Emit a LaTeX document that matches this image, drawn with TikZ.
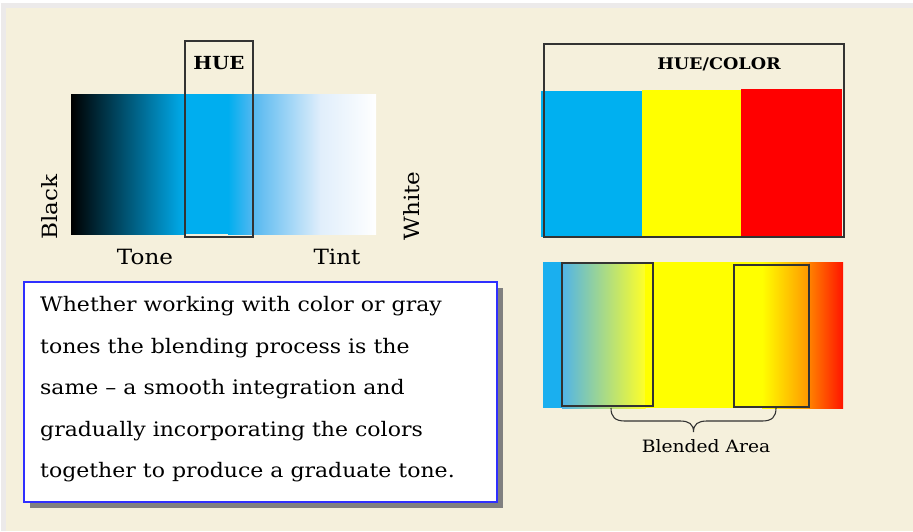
\documentclass[tikz,border=0pt]{standalone}
\usepackage{fontspec}
\setmainfont{DejaVu Serif}[FakeStretch=1.1]
\usetikzlibrary{positioning}
\definecolor{cream}{HTML}{F5F0DC}
\definecolor{edgegray}{HTML}{ECEAEA}
\definecolor{hueblue}{HTML}{00AEEF}
\definecolor{lightblue}{HTML}{55B8F0}
\definecolor{paleblue}{HTML}{E0EEFB}
\definecolor{barblue}{HTML}{00B0F0}
\definecolor{pureyellow}{HTML}{FFFF00}
\definecolor{purered}{HTML}{FF0000}
\definecolor{leftblue}{HTML}{1AAFEF}
\definecolor{mixblue}{HTML}{50B4E8}
\definecolor{softyellow}{HTML}{FFFF28}
\definecolor{orangeA}{HTML}{FF9600}
\definecolor{orangeB}{HTML}{FF8200}
\definecolor{redend}{HTML}{FF1400}
\definecolor{boxblue}{HTML}{2F2FFF}
\definecolor{shadowgray}{HTML}{808080}
\definecolor{framegray}{HTML}{333333}
\tikzset{
  frame/.style={draw=framegray, line width=1.3pt},
  lbl/.style={font=\fontsize{21}{24}\selectfont, inner sep=0pt},
  title/.style={font=\bfseries\fontsize{16}{19}\selectfont, inner sep=0pt},
}
\begin{document}
\begin{tikzpicture}[x=1pt,y=-1pt]
\useasboundingbox (0,0) rectangle (913,531);
% background
\fill[white] (0,0) rectangle (913,531);
\fill[edgegray] (1,3) rectangle (913,531);
\fill[cream] (6,8) rectangle (913,531);

% ---- left: tone/tint gradient ----
\shade[left color=black, right color=hueblue] (71,94) rectangle (185.5,234);
\fill[hueblue] (185,94) rectangle (228.5,234);
\shade[left color=hueblue, right color=lightblue] (228,94) rectangle (253.5,234);
\shade[left color=lightblue, right color=paleblue] (253,94) rectangle (320.5,234);
\shade[left color=paleblue, right color=white] (320,94) rectangle (376,234);
\node[frame, minimum width=68pt, minimum height=196pt, inner sep=0pt] (huebox) at (219,139) {};
\node[title, font=\bfseries\fontsize{18}{21}\selectfont] (hue) at (219,63) {HUE};
\node[lbl, rotate=90] (black) at (50,207) {Black};
\node[lbl, rotate=90] (white) at (412,206) {White};
\node[lbl] (tone) at (145,257) {Tone};
\node[lbl] (tint) at (337,257) {Tint};

% ---- right top: hue/color bars ----
\fill[barblue] (541,91) rectangle (642,237);
\fill[pureyellow] (642,90) rectangle (741,237);
\fill[purered] (741,89) rectangle (842,236);
\node[frame, minimum width=300pt, minimum height=193pt, inner sep=0pt] (colorbox) at (694,140.5) {};
\node[title] (huecolor) at (719,64) {HUE/COLOR};

% ---- right bottom: blended bar ----
\fill[leftblue] (543,262) rectangle (562.5,408);
\shade[left color=mixblue, right color=softyellow] (562,262) rectangle (645.5,408);
\fill[pureyellow] (645,262) rectangle (762.5,408);
\shade[left color=pureyellow, right color=orangeA] (762,262) rectangle (809.5,408);
\shade[left color=orangeB, right color=redend] (809,262) rectangle (843,408);
\node[frame, minimum width=91pt, minimum height=143pt, inner sep=0pt] (blendL) at (607.5,334.5) {};
\node[frame, minimum width=75pt, minimum height=142pt, inner sep=0pt] (blendR) at (771.5,336) {};
\coordinate (braceL) at (611,408);
\coordinate (braceR) at (776,408);
\coordinate (braceTip) at (693.5,432);
\draw[framegray, line width=1.1pt]
  (braceL) .. controls (611,417) and (615,421) .. (625,421) -- (680,421)
  .. controls (689,421) and (693.5,424) .. (braceTip)
  .. controls (693.5,424) and (698,421) .. (707,421) -- (762,421)
  .. controls (772,421) and (776,417) .. (braceR);
\node[font=\fontsize{17}{20}\selectfont, inner sep=0pt] (blended) at (706,446) {Blended Area};

% ---- text box ----
\fill[shadowgray] (30,288) rectangle (503,508);
\node[draw=boxblue, fill=white, line width=1.2pt, minimum width=473pt, minimum height=220pt, inner sep=0pt] (textbox) at (260.5,392) {};
\node[anchor=north west, inner sep=0pt, align=left, font=\fontsize{20}{41.5}\selectfont] (para) at (40,296.5)
  {Whether working with color or gray\\
   tones the blending process is the\\
   same -- a smooth integration and\\
   gradually incorporating the colors\\
   together to produce a graduate tone.};
\end{tikzpicture}
\end{document}
